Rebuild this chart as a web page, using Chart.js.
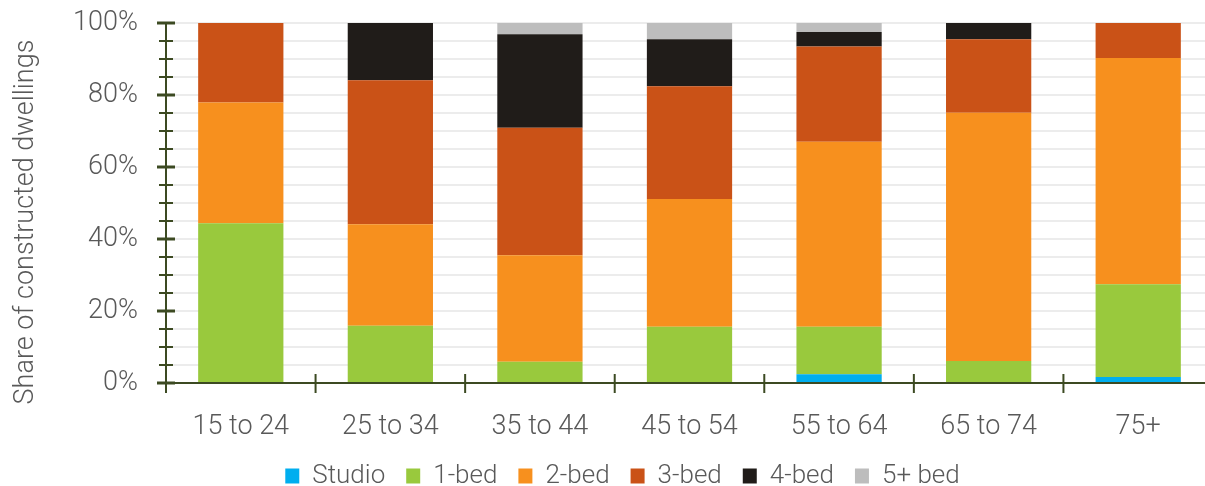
<!DOCTYPE html>
<html>
<head>
<meta charset="utf-8">
<script src="https://cdn.jsdelivr.net/npm/chart.js@4.4.1/dist/chart.umd.min.js"></script>
<style>
  html, body { margin: 0; padding: 0; background: #ffffff; overflow: hidden; }
  #wrap { position: relative; width: 1213px; height: 486px; }
</style>
</head>
<body>
<div id="wrap"><canvas id="chart"></canvas></div>
<script>
// Age groups of the household reference person
const ageGroups = ['15 to 24', '25 to 34', '35 to 44', '45 to 54', '55 to 64', '65 to 74', '75+'];

// Share of constructed dwellings by number of bedrooms (%)
const studio  = [0,    0,    0,    0,    2.4,  0,    1.7];
const oneBed  = [44.4, 15.9, 5.9,  15.6, 13.2, 6.1,  25.7];
const twoBed  = [33.5, 28.2, 29.6, 35.5, 51.4, 69.0, 62.9];
const threeBed= [22.1, 40.0, 35.4, 31.3, 26.5, 20.4, 9.7];
const fourBed = [0,    15.9, 26.0, 13.1, 4.0,  4.5,  0];
const fivePlus= [0,    0,    3.1,  4.5,  2.5,  0,    0];

const yTickValues = [0, 20, 40, 60, 80, 100];
const axisTitle = 'Share of constructed dwellings';

const AXIS_COLOR = '#3c4a22';
const TEXT_COLOR = '#595959';
const FONT = 'Roboto, "Liberation Sans", Arial, sans-serif';
const FONT_SIZE = 27;

// Axis lines with tick marks crossing them, drawn from the chart's scales
const axisPlugin = {
  id: 'axisPlugin',
  afterDatasetsDraw(chart) {
    const { ctx, scales: { x, y } } = chart;
    const x0 = x.left;
    const yBase = y.getPixelForValue(0);
    ctx.save();
    ctx.strokeStyle = AXIS_COLOR;
    ctx.lineCap = 'butt';
    ctx.lineWidth = 2;
    ctx.beginPath();
    ctx.moveTo(x0, y.getPixelForValue(100));
    ctx.lineTo(x0, yBase);
    ctx.stroke();
    ctx.beginPath();
    ctx.moveTo(x0, yBase);
    ctx.lineTo(x.right, yBase);
    ctx.stroke();
    // y tick marks every 5 %, larger at labelled values
    y.ticks.forEach((t) => {
      const py = y.getPixelForValue(t.value);
      const major = yTickValues.includes(t.value);
      const half = major ? 9 : 7;
      ctx.lineWidth = major ? 3 : 2;
      ctx.beginPath();
      ctx.moveTo(x0 - half, py);
      ctx.lineTo(x0 + half, py);
      ctx.stroke();
    });
    // x tick marks at category boundaries
    ctx.lineWidth = 2;
    for (let i = 0; i <= ageGroups.length; i++) {
      const px = x.getPixelForValue(i - 0.5);
      ctx.beginPath();
      ctx.moveTo(px, yBase - 9);
      ctx.lineTo(px, yBase + 10);
      ctx.stroke();
    }
    ctx.restore();
  },
  afterDraw(chart) {
    const { ctx } = chart;
    ctx.save();
    ctx.fillStyle = TEXT_COLOR;
    ctx.font = '300 ' + FONT_SIZE + 'px ' + FONT;
    ctx.textAlign = 'center';
    ctx.textBaseline = 'middle';
    ctx.translate(26, 222);
    ctx.rotate(-Math.PI / 2);
    ctx.fillText(axisTitle, 0, 0);
    ctx.restore();
  }
};

const mk = (label, data, color) => ({
  label, data, backgroundColor: color, borderWidth: 0,
  barPercentage: 0.57, categoryPercentage: 1
});

new Chart(document.getElementById('chart'), {
  type: 'bar',
  data: {
    labels: ageGroups,
    datasets: [
      mk('Studio', studio, '#00aeef'),
      mk('1-bed', oneBed, '#99c93d'),
      mk('2-bed', twoBed, '#f7901e'),
      mk('3-bed', threeBed, '#ca5217'),
      mk('4-bed', fourBed, '#201c19'),
      mk('5+ bed', fivePlus, '#bdbdbd')
    ]
  },
  options: {
    responsive: true,
    maintainAspectRatio: false,
    animation: false,
    layout: { padding: { top: 23, right: 0, bottom: -13, left: 32 } },
    plugins: {
      tooltip: { enabled: false },
      legend: {
        position: 'bottom',
        labels: {
          color: TEXT_COLOR,
          font: { family: FONT, size: 26, weight: '300' },
          boxWidth: 14,
          boxHeight: 15,
          padding: 21
        }
      }
    },
    scales: {
      x: {
        stacked: true,
        offset: true,
        grid: { display: false, offset: true },
        border: { display: false },
        ticks: {
          color: TEXT_COLOR,
          font: { family: FONT, size: FONT_SIZE, weight: '300' },
          padding: 20,
          maxRotation: 0
        },
        afterFit(scale) { scale.height = 59; }
      },
      y: {
        stacked: true,
        min: 0,
        max: 100,
        grid: { color: '#ececec', lineWidth: 2, drawTicks: false },
        border: { display: false },
        ticks: {
          stepSize: 5,
          autoSkip: false,
          color: TEXT_COLOR,
          font: { family: FONT, size: FONT_SIZE, weight: '300' },
          padding: 28,
          callback: (v) => (yTickValues.includes(v) ? v + '%' : '')
        },
        afterFit(scale) {
          scale.width = 134;
          scale.paddingTop = 0;
          scale.paddingBottom = 0;
        }
      }
    }
  },
  plugins: [axisPlugin]
});
</script>
</body>
</html>
